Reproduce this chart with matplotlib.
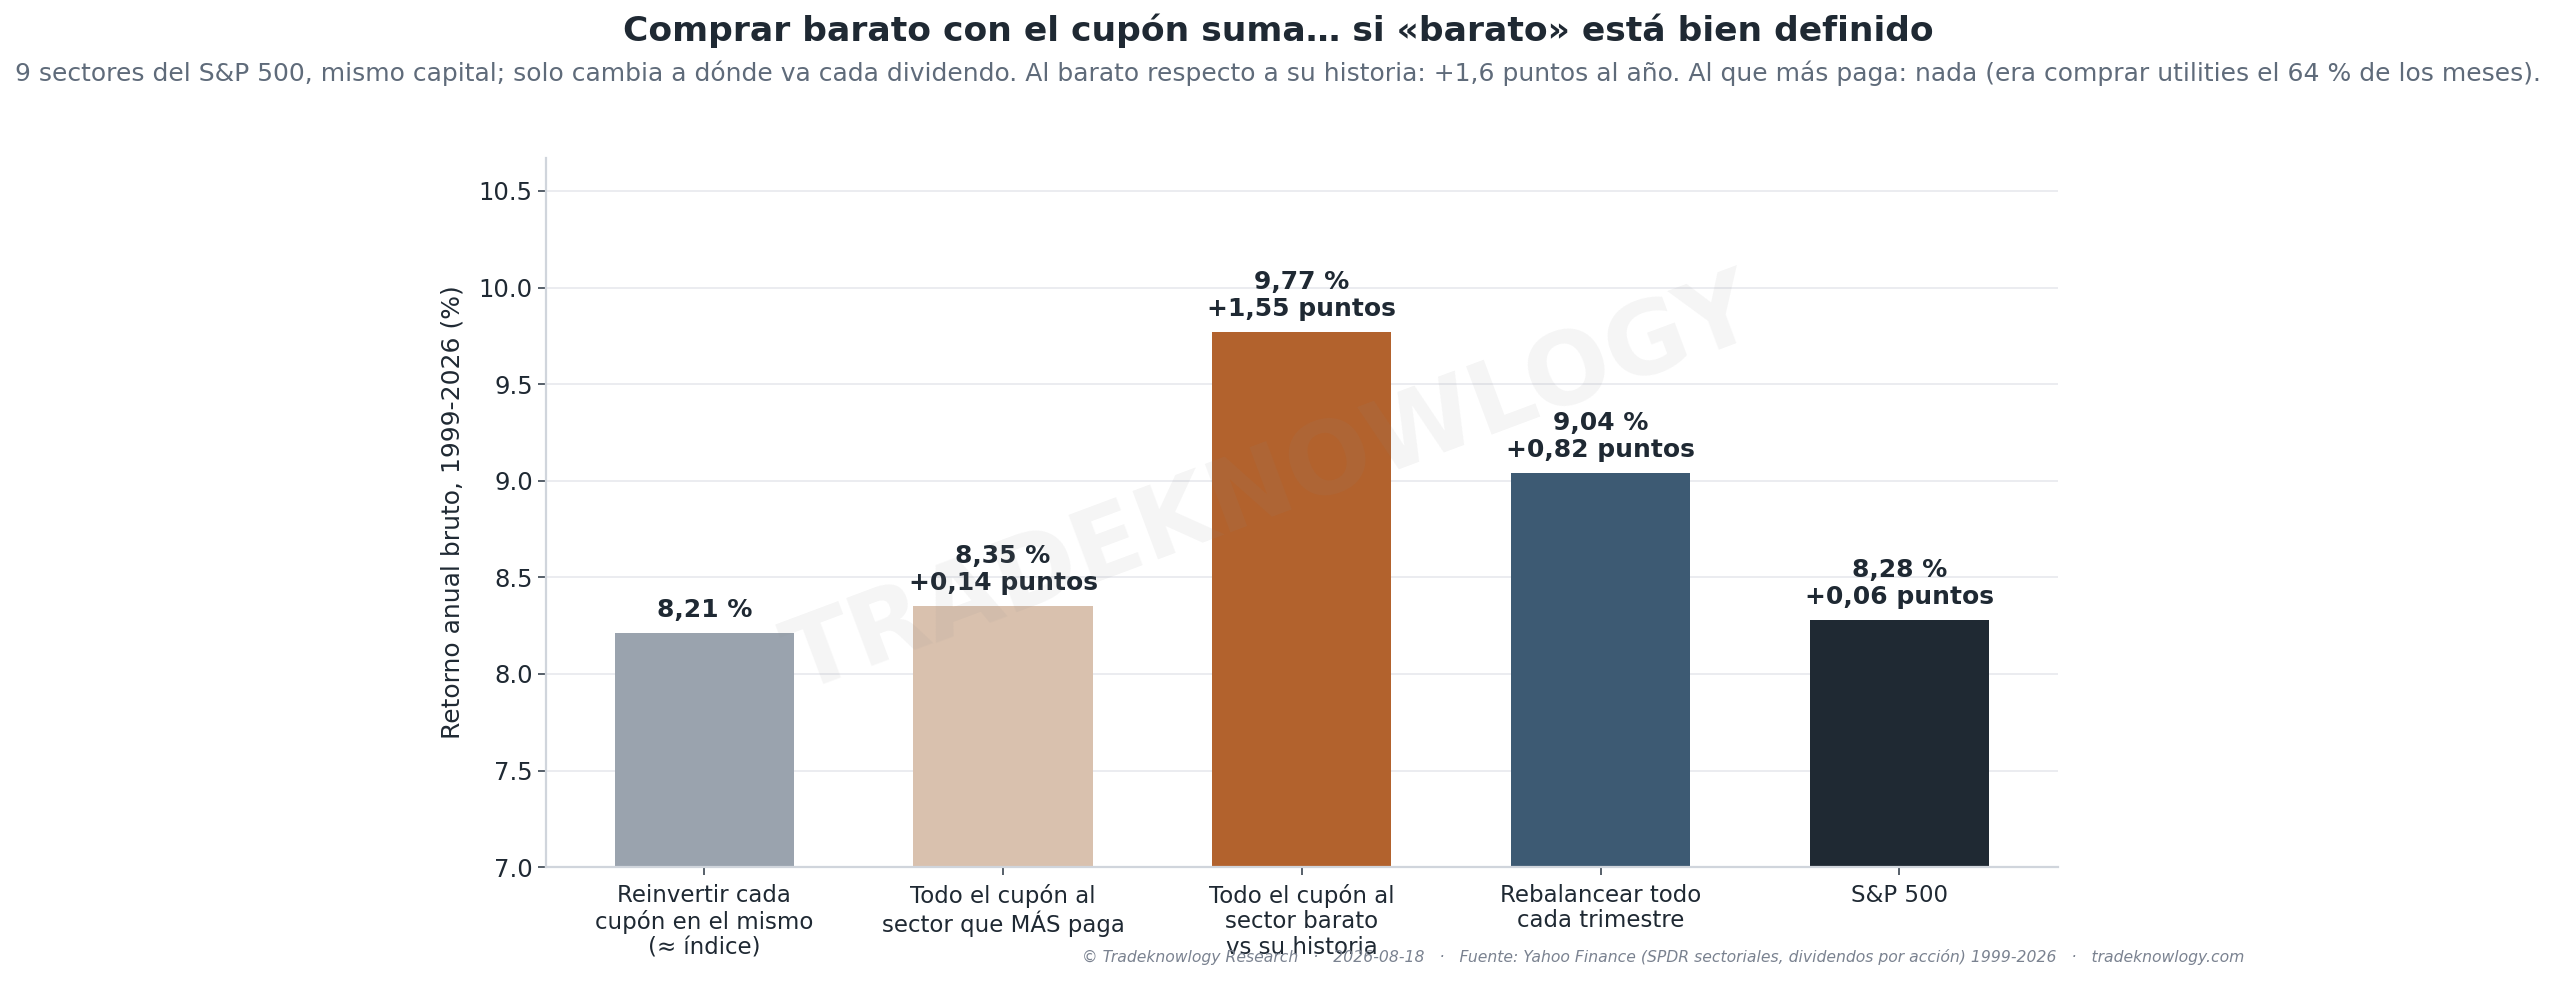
import matplotlib
matplotlib.use("Agg")
import matplotlib.pyplot as plt

categories = [
    "Reinvertir cada\ncupón en el mismo\n(≈ índice)",
    "Todo el cupón al\nsector que MÁS paga",
    "Todo el cupón al\nsector barato\nvs su historia",
    "Rebalancear todo\ncada trimestre",
    "S&P 500",
]
values = [8.21, 8.35, 9.77, 9.04, 8.28]
value_labels = ["8,21 %", "8,35 %", "9,77 %", "9,04 %", "8,28 %"]
delta_labels = [None, "+0,14 puntos", "+1,55 puntos", "+0,82 puntos", "+0,06 puntos"]
colors = ["#9aa3ae", "#d9c1ae", "#b2622d", "#3d5a73", "#1f2933"]
yticks = [7.0, 7.5, 8.0, 8.5, 9.0, 9.5, 10.0, 10.5]

title = "Comprar barato con el cupón suma… si «barato» está bien definido"
subtitle = ("9 sectores del S&P 500, mismo capital; solo cambia a dónde va cada dividendo. "
            "Al barato respecto a su historia: +1,6 puntos al año. Al que más paga: nada "
            "(era comprar utilities el 64 % de los meses).")
footer = ("© Tradeknowlogy Research   ·   2026-08-18   ·   Fuente: Yahoo Finance "
          "(SPDR sectoriales, dividendos por acción) 1999-2026   ·   tradeknowlogy.com")
ylabel = "Retorno anual bruto, 1999-2026 (%)"

DARK = "#1f2933"
plt.rcParams["font.family"] = ["DejaVu Sans"]

fig = plt.figure(figsize=(25.56, 9.82), dpi=100)
ax = fig.add_axes([0.2136, 0.117, 0.805 - 0.2136, 0.839 - 0.117])

x = list(range(len(categories)))
bars = ax.bar(x, values, width=0.6, color=colors, zorder=2)

ax.set_ylim(7.0, 10.67)
ax.set_yticks(yticks)
ax.set_yticklabels([f"{v:.1f}" for v in yticks])
ax.set_xticks(x)
ax.set_xticklabels(categories, fontsize=16.5, color=DARK, linespacing=1.15)
ax.tick_params(axis="y", labelsize=17.5, colors="#3a4450", labelcolor=DARK, length=6, width=1.2)
ax.tick_params(axis="x", colors="#3a4450", labelcolor=DARK, length=6, width=1.2, pad=6)
ax.set_ylabel(ylabel, fontsize=18, color=DARK, labelpad=10)

ax.grid(axis="y", color="#e9ebef", linewidth=1.3, zorder=0)
ax.set_axisbelow(True)
for s in ["top", "right"]:
    ax.spines[s].set_visible(False)
for s in ["left", "bottom"]:
    ax.spines[s].set_color("#d0d5dc")
    ax.spines[s].set_linewidth(1.6)

for xi, v, vl, dl in zip(x, values, value_labels, delta_labels):
    txt = vl if dl is None else f"{vl}\n{dl}"
    ax.annotate(txt, (xi, v), xytext=(0, 8), textcoords="offset points",
                ha="center", va="bottom", fontsize=18, fontweight="bold",
                color=DARK, linespacing=1.15)

ax.text(0.48, 0.535, "TRADEKNOWLOGY", transform=ax.transAxes, rotation=20.5,
        ha="center", va="center", fontsize=72, fontweight="bold",
        color="#8c8c8c", alpha=0.09, zorder=5)

fig.text(0.5, 0.969, title, ha="center", va="center", fontsize=24.8,
         fontweight="bold", color=DARK)
fig.text(0.5, 0.925, subtitle, ha="center", va="center", fontsize=18, color="#5f6b7a")
fig.text(0.878, 0.025, footer, ha="right", va="center", fontsize=11.25,
         style="italic", color="#7a8290")

fig.savefig("out.png", dpi=100)
